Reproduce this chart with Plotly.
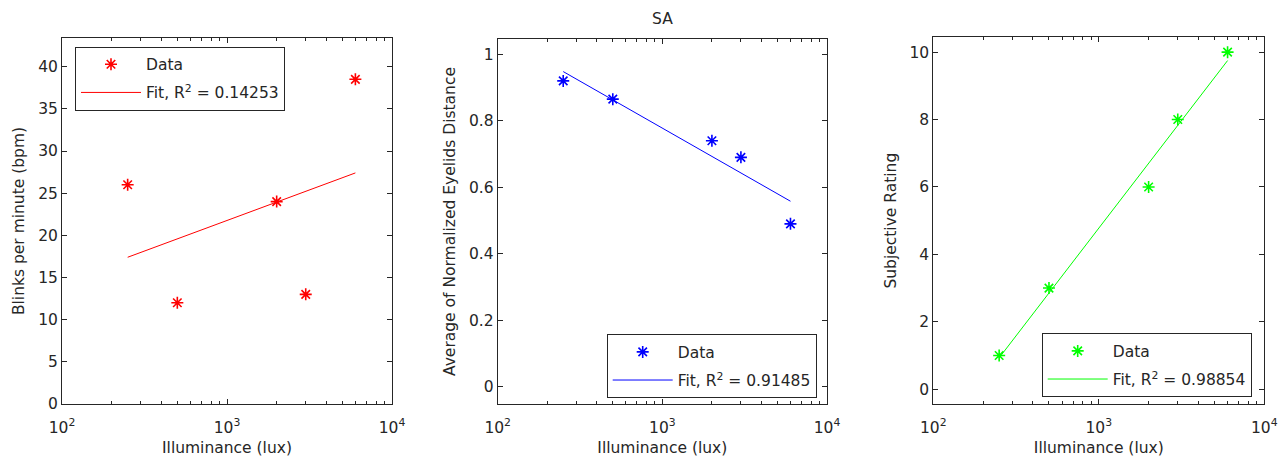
import plotly.graph_objects as go

W, H = 1287, 462

# Data
illuminance = [250, 500, 2000, 3000, 6000]
blinks = [26, 12, 24, 13, 38.5]
eyelid = [0.92, 0.865, 0.74, 0.69, 0.49]
rating = [1, 3, 6, 8, 10]

fit_x = [250, 6000]
fit_blinks = [17.4, 27.4]
fit_eyelid = [0.948, 0.558]
fit_rating = [0.93, 9.75]

r2_labels = ["Fit, R<sup>2</sup> = 0.14253", "Fit, R<sup>2</sup> = 0.91485", "Fit, R<sup>2</sup> = 0.98854"]
ytitles = ["Blinks per minute (bpm)", "Average of Normalized Eyelids Distance", "Subjective Rating"]
xtitle = "Illuminance (lux)"
title = "SA"

xtickvals = [100, 1000, 10000]
xticktext = ["10<sup>2</sup>", "10<sup>3</sup>", "10<sup>4</sup>"]
minor_vals = [v * m for v in (100, 1000) for m in range(2, 10)]

colors = ["#ff0000", "#0000ff", "#00ff00"]
FONT = "DejaVu Sans"
FS = 15.5

# pixel layout of plot areas (left, right, top, bottom)
boxes = [(62, 392, 38, 404), (497.7, 827, 39, 404), (933.3, 1264.3, 37.3, 404)]
yranges = [[0, 43.4], [-0.052, 1.046], [-0.44, 10.44]]
ydticks = [[0, 5, 10, 15, 20, 25, 30, 35, 40], [0, 0.2, 0.4, 0.6, 0.8, 1], [0, 2, 4, 6, 8, 10]]
ytexts = [[str(v) for v in ydticks[0]], ["0", "0.2", "0.4", "0.6", "0.8", "1"], [str(v) for v in ydticks[2]]]
legend_pos = [(75, 46.7), (606.7, 334.3), (1041.7, 333.3)]

fig = go.Figure()
datas = [blinks, eyelid, rating]
fits = [fit_blinks, fit_eyelid, fit_rating]

for i in range(3):
    xa = "x" if i == 0 else f"x{i+1}"
    ya = "y" if i == 0 else f"y{i+1}"
    lg = "legend" if i == 0 else f"legend{i+1}"
    fig.add_trace(go.Scatter(
        x=illuminance, y=datas[i], mode="markers", name="Data",
        xaxis=xa, yaxis=ya, legend=lg, legendgroup=f"d{i}",
        marker=dict(symbol="asterisk-open", size=10, color=colors[i],
                    line=dict(color=colors[i], width=1.6)),
    ))
    fig.add_trace(go.Scatter(
        x=fit_x, y=fits[i], mode="lines", name=r2_labels[i],
        xaxis=xa, yaxis=ya, legend=lg, legendgroup=f"f{i}",
        line=dict(color=colors[i], width=1),
    ))

layout = dict(
    width=W, height=H, autosize=False,
    margin=dict(l=0, r=0, t=0, b=0),
    paper_bgcolor="white", plot_bgcolor="white",
    font=dict(family=FONT, size=FS, color="#262626"),
    showlegend=True,
)

for i in range(3):
    l, r, t, b = boxes[i]
    sx = "" if i == 0 else str(i + 1)
    layout[f"xaxis{sx}"] = dict(
        type="log", range=[2, 4], domain=[l / W, r / W],
        anchor=f"y{sx}", automargin=False,
        tickvals=xtickvals, ticktext=xticktext, ticklabelstandoff=9,
        ticks="inside", ticklen=5, tickcolor="#262626", tickwidth=1,
        minor=dict(tickvals=minor_vals, ticks="inside", ticklen=3, tickcolor="#262626", showgrid=False),
        showline=True, linecolor="#262626", linewidth=1, mirror="ticks",
        showgrid=False, zeroline=False,
        title=dict(text=xtitle, standoff=6, font=dict(family=FONT, size=FS)),
        tickfont=dict(family=FONT, size=FS),
    )
    layout[f"yaxis{sx}"] = dict(
        range=yranges[i], domain=[1 - b / H, 1 - t / H],
        anchor=f"x{sx}", automargin=False,
        tickvals=ydticks[i], ticktext=ytexts[i],
        ticks="inside", ticklen=5, tickcolor="#262626", tickwidth=1,
        showline=True, linecolor="#262626", linewidth=1, mirror="ticks",
        showgrid=False, zeroline=False,
        title=dict(text=ytitles[i], standoff=9, font=dict(family=FONT, size=FS)),
        tickfont=dict(family=FONT, size=FS),
    )
    lx, ly = legend_pos[i]
    lname = "legend" if i == 0 else f"legend{i+1}"
    layout[lname] = dict(
        x=lx / W, y=1 - ly / H, xanchor="left", yanchor="top",
        xref="paper", yref="paper",
        bordercolor="#262626", borderwidth=1, bgcolor="white",
        font=dict(family=FONT, size=FS, color="#262626"),
        itemwidth=60, tracegroupgap=5, traceorder="grouped",
    )

fig.update_layout(**layout)

fig.add_annotation(
    text=title, xref="x2 domain", yref="paper", x=0.5, y=1 - 19 / H,
    showarrow=False, font=dict(family=FONT, size=FS, color="#262626"),
    xanchor="center", yanchor="middle",
)

fig.write_html("out.html")
